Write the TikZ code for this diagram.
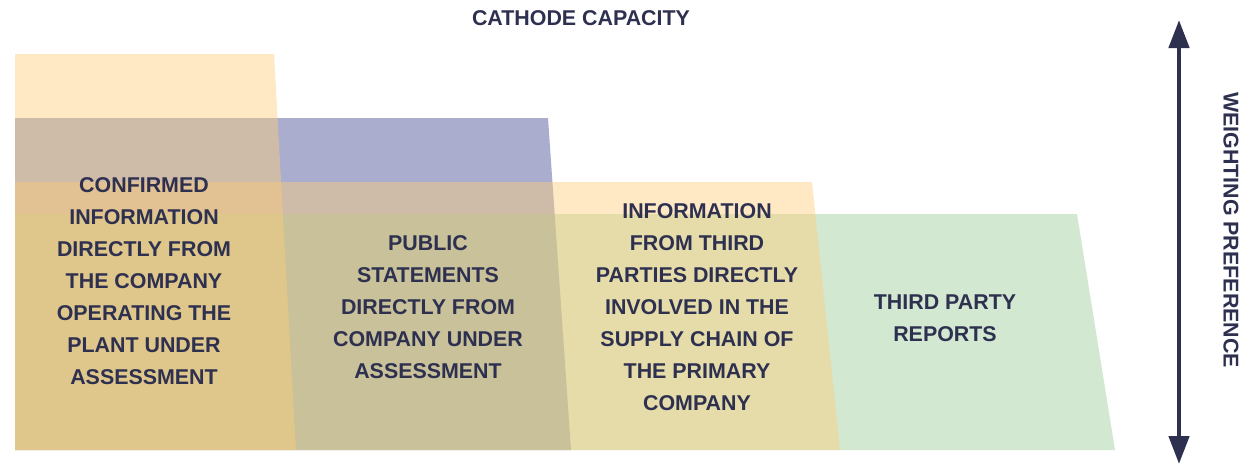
\documentclass[tikz,border=0pt]{standalone}
\usepackage{fontspec}
\setmainfont{Liberation Sans}
\usetikzlibrary{arrows.meta}
\definecolor{ink}{HTML}{2E3050}
\definecolor{blueband}{HTML}{AAADCE}
\definecolor{greenband}{HTML}{96C88F}
\definecolor{peachband}{HTML}{FDCD79}
\tikzset{
  lbl/.style={text=ink, align=center, inner sep=0pt,
    font=\fontsize{21.4}{32}\selectfont\bfseries},
  peachlayer/.style={fill=peachband, fill opacity=0.44},
  greenlayer/.style={fill=greenband, fill opacity=0.42},
  bluelayer/.style={fill=blueband}
}
\begin{document}
\begin{tikzpicture}
[x = 1pt,
y = -1pt]
\useasboundingbox (0,0) rectangle (1257,466);

% bands, back to front
\fill[bluelayer]  (15,118) -- (548,118) -- (571,450) -- (15,450) -- cycle;
\fill[greenlayer] (15,214) -- (1077,214) -- (1115,450) -- (15,450) -- cycle;
\fill[peachlayer] (15,54) -- (274,54) -- (296,450) -- (15,450) -- cycle;
\fill[peachlayer] (15,182) -- (812,182) -- (840,450) -- (15,450) -- cycle;

\node[lbl] (title) at (581,18) {CATHODE CAPACITY};

\node[lbl] (confirmed) at (144,281) {CONFIRMED\\INFORMATION\\DIRECTLY FROM\\THE COMPANY\\OPERATING THE\\PLANT UNDER\\ASSESSMENT};
\node[lbl] (public) at (428,307) {PUBLIC\\STATEMENTS\\DIRECTLY FROM\\COMPANY UNDER\\ASSESSMENT};
\node[lbl] (thirdinfo) at (697,307) {INFORMATION\\FROM THIRD\\PARTIES DIRECTLY\\INVOLVED IN THE\\SUPPLY CHAIN OF\\THE PRIMARY\\COMPANY};
\node[lbl] (reports) at (945,318) {THIRD PARTY\\REPORTS};

% weighting axis
\coordinate (axtop) at (1179,20);
\coordinate (axbot) at (1179,464);
\draw[ink, line width=4.5pt, {Triangle[length=28pt,width=20pt]}-{Triangle[length=28pt,width=20pt]}] (axtop) -- (axbot);
\node[lbl, rotate=-90] (weighting) at (1231,230) {WEIGHTING PREFERENCE};
\end{tikzpicture}
\end{document}
